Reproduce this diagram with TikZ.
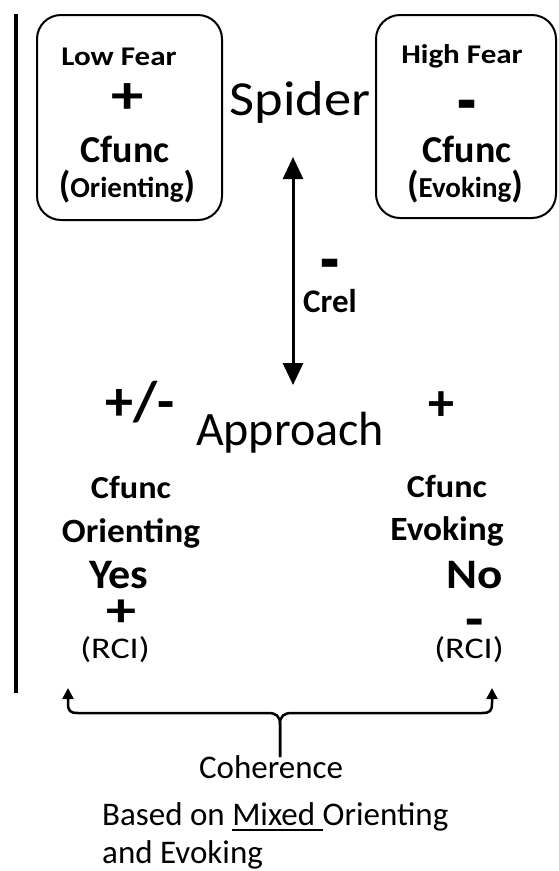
\documentclass[tikz,border=0pt]{standalone}
\usepackage{fontspec}
\setmainfont{Carlito}
\usetikzlibrary{arrows.meta}
\newcommand\ulword[1]{\setbox0\hbox{#1}\rlap{\rule[-5.5pt]{\wd0}{1.8pt}}\box0}
\newcommand\hstretch[2]{\scalebox{#1}[1]{#2}}
\newcommand\bigparen[1]{{\fontsize{37}{37}\selectfont#1}}
\tikzset{
  boxframe/.style={draw, line width=2pt, rounded corners=24pt},
  bt/.style={font=\bfseries\fontsize{#1}{#1}\selectfont, inner sep=0pt, anchor=base},
  rt/.style={font=\fontsize{#1}{#1}\selectfont, inner sep=0pt, anchor=base},
  sym/.style={font=\bfseries\fontsize{#1}{#1}\selectfont, inner sep=0pt, anchor=center},
  link/.style={line width=3pt, {Triangle[width=20pt,length=22pt]}-{Triangle[width=20pt,length=22pt]}},
  bracel/.style={line width=2.5pt, -{Triangle[width=11pt,length=11pt]}}
}
\begin{document}
\begin{tikzpicture}[x=1pt,y=-1pt]
\useasboundingbox (0,0) rectangle (558,871);
% left rule
\draw[line width=4pt] (16,14) coordinate (ruletop) -- (16,693) coordinate (rulebot);
% boxes
\draw[boxframe] (37,15) rectangle (222,220);
\draw[boxframe] (376,15) rectangle (556,218);
% left box text
\node[bt=27] (lowfear) at (119,65) {\hstretch{1.15}{Low Fear}};
\node[sym=54] (lplus) at (128,99) {\hstretch{1.2}{+}};
\node[bt=38] (lcfunc) at (125,162) {Cfunc};
\node[bt=29] (lorient) at (127,197) {\bigparen{(}Orienting\bigparen{)}};
% right box text
\node[bt=27] (highfear) at (462,63) {\hstretch{1.15}{High Fear}};
\node[sym=52] (rminus) at (467,113) {\scalebox{1.2}[1.5]{-}};
\node[bt=38] (rcfunc) at (467,162) {Cfunc};
\node[bt=29] (revok) at (465,197) {\bigparen{(}Evoking\bigparen{)}};
% Spider
\node[rt=49] (spider) at (300,115) {\hstretch{1.11}{Spider}};
% relation arrow
\coordinate (atop) at (293,157);
\coordinate (abot) at (293,385);
\draw[link] (atop) -- (abot);
\node[sym=52] (cminus) at (330,272) {\scalebox{1.2}[1.5]{-}};
\node[bt=33] (crel) at (330,312) {Crel};
% Approach
\node[bt=56] (pm) at (140,420) {+/-};
\node[rt=48] (approach) at (290,445) {Approach};
\node[sym=52] (aplus) at (441,406) {+};
% left column
\node[bt=32] (c1) at (131,498) {\hstretch{1.07}{Cfunc}};
\node[bt=34] (o1) at (131,542) {\hstretch{1.04}{Orienting}};
\node[bt=42] (yes) at (119,588) {\hstretch{1.05}{Yes}};
\node[sym=48] (yplus) at (121,613) {\hstretch{1.25}{+}};
\node[rt=30] (rci1) at (115,658) {\hstretch{1.2}{(RCI)}};
% right column
\node[bt=32] (c2) at (447,497) {\hstretch{1.07}{Cfunc}};
\node[bt=34] (e2) at (447,540) {\hstretch{1.04}{Evoking}};
\node[bt=42] (no) at (475,588) {\hstretch{1.12}{No}};
\node[sym=48] (nminus) at (475,629) {\scalebox{1.25}[1.2]{-}};
\node[rt=30] (rci2) at (469,658) {\hstretch{1.2}{(RCI)}};
% brace
\coordinate (tip) at (280,757);
\coordinate (lend) at (68,688);
\coordinate (rend) at (492,688);
\draw[bracel] (tip) -- (280,724) .. controls (280,716) and (276,713) .. (268,713) -- (78,713) .. controls (70,713) and (68,711) .. (68,703) -- (lend);
\draw[bracel] (tip) -- (280,724) .. controls (280,716) and (284,713) .. (292,713) -- (482,713) .. controls (490,713) and (492,711) .. (492,703) -- (rend);
% bottom text
\node[rt=33] (coh) at (271,778) {Coherence};
\node[rt=33, anchor=base west] (based) at (102,825) {Based on \ulword{Mixed\ }Orienting};
\node[rt=33, anchor=base west] (andev) at (102,863) {and Evoking};
\end{tikzpicture}
\end{document}
